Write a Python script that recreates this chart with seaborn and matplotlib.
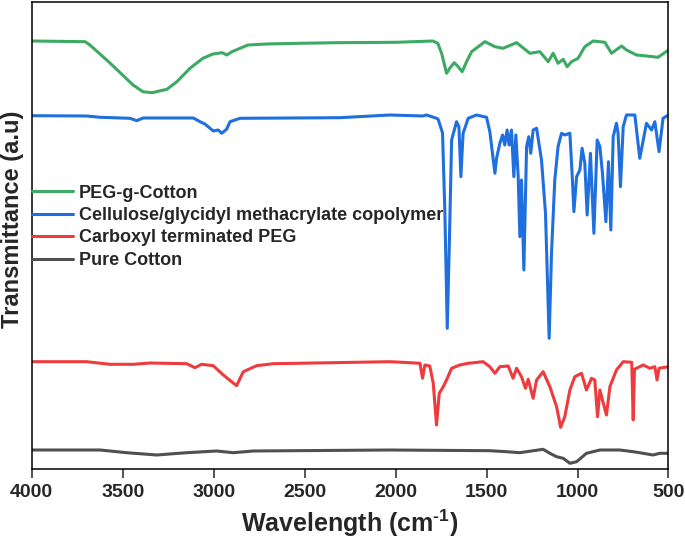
import matplotlib
matplotlib.use("Agg")
import matplotlib.pyplot as plt
import numpy as np
import pandas as pd
import seaborn as sns

# FTIR spectra (wavenumber in cm-1, transmittance in a.u., already offset)
peg_cotton_wn = [4000, 3707, 3680, 3570, 3443, 3389, 3339, 3257, 3202, 3130, 3059, 3004, 2954, 2927,
                 2899, 2855, 2811, 2707, 2526, 2322, 1994, 1795, 1768, 1747, 1720, 1702, 1678, 1656,
                 1634, 1610, 1582, 1509, 1454, 1409, 1335, 1262, 1207, 1161, 1134, 1107, 1079, 1057,
                 1033, 997, 960, 914, 850, 813, 758, 731, 676, 621, 557, 500]
peg_cotton_t = [428.3, 427.6, 424.3, 406.3, 384.3, 377.6, 376.6, 380, 387.6, 401, 411, 415.3, 416.6, 414.3,
                417.6, 421, 424.3, 425.3, 426, 426.6, 427, 428.3, 426, 416, 396, 401, 406.6, 402.6,
                397.6, 407.6, 417.6, 427.6, 422.6, 421, 426.6, 416, 417.6, 407.6, 416, 406, 410, 402.6,
                407.6, 411, 422.6, 428.3, 427, 416, 423.3, 419.3, 414.3, 413.3, 412, 419.3]

gma_wn = [4000, 3698, 3625, 3460, 3423, 3387, 3112, 3075, 3048, 3002, 2975, 2956, 2929, 2910, 2855,
          2306, 2031, 1850, 1830, 1775, 1766, 1742, 1729, 1716, 1705, 1692, 1665, 1652, 1641, 1629,
          1601, 1555, 1500, 1482, 1454, 1445, 1427, 1412, 1400, 1387, 1376, 1363, 1350, 1339, 1326,
          1317, 1308, 1295, 1280, 1268, 1257, 1244, 1225, 1198, 1176, 1156, 1143, 1125, 1107, 1088,
          1070, 1042, 1028, 1020, 1005, 987, 975, 960, 947, 929, 910, 892, 877, 863, 844, 830, 817,
          804, 786, 777, 764, 749, 731, 685, 658, 621, 593, 575, 552, 530, 500]
gma_t = [353.6, 353.3, 352, 351, 348.6, 351.3, 351.3, 347.6, 345.3, 338.3, 339.3, 336, 340, 347.6, 351,
         351.6, 354.3, 353.3, 354.3, 351, 350, 336.3, 256.3, 141, 222.6, 329.3, 347.6, 342.6, 292.6, 336,
         351, 354.3, 352, 337.6, 296, 311, 326, 334.3, 324.3, 339.3, 324.3, 339.3, 292.6, 334.3, 292.6,
         232.6, 289.3, 199.3, 322.6, 332.6, 316, 339.3, 341, 309.3, 256, 131, 216, 289.3, 322.6, 336,
         334.3, 336, 289.3, 257.6, 292.6, 299.3, 321, 306, 254.3, 316, 236, 329.3, 322.6, 296, 247.6, 307.6, 239.3,
         332.6, 346, 336, 282.6, 342.6, 354.3, 354.3, 311, 346, 339.3, 347.6, 317.6, 351, 354.3]

cpeg_wn = [4000, 3698, 3570, 3442, 3350, 3148, 3103, 3066, 3002, 2947, 2874, 2837, 2764, 2672, 2343,
           2031, 1921, 1866, 1852, 1839, 1812, 1793, 1775, 1760, 1738, 1720, 1692, 1647, 1601, 1519,
           1482, 1454, 1427, 1381, 1354, 1335, 1308, 1286, 1271, 1244, 1225, 1189, 1152, 1115, 1093,
           1070, 1042, 1015, 978, 951, 923, 905, 890, 877, 863, 841, 822, 786, 749, 702, 694, 687,
           676, 639, 602, 575, 563, 552, 500]
cpeg_t = [107.6, 107.6, 105, 105, 106.3, 105.6, 101.6, 105, 103.6, 94.3, 83.6, 97.6, 103.6, 105.6, 106.6,
          107.6, 106.6, 106, 91, 104.3, 103.3, 86, 44.3, 76, 82.6, 89.3, 101, 104.3, 106, 107.6,
          102.6, 96, 102.6, 103.3, 91, 101, 92.6, 81, 90, 71, 89.3, 97.6, 82.6, 62.6, 42,
          52.6, 79.3, 92.6, 96, 79.3, 91, 89.3, 52.6, 79.3, 69.3, 54.3, 82.6, 99.3, 107.6, 107, 49.3, 100,
          101, 104.3, 101, 102.6, 89.3, 101, 102.6]

cotton_wn = [4000, 3625, 3478, 3313, 3148, 2984, 2892, 2782, 2031, 1482, 1390, 1317, 1189, 1152, 1115,
             1079, 1042, 1005, 951, 877, 768, 694, 639, 585, 548, 500]
cotton_t = [19.3, 19.3, 16.6, 14.3, 16.6, 18.3, 16.6, 18.3, 19.3, 18.6, 17.6, 16.6, 20, 16, 12.6,
            11, 6, 7.6, 16, 19.3, 19.3, 17.6, 16, 14.3, 16, 16]

names = ["PEG-g-Cotton", "Cellulose/glycidyl methacrylate copolymer",
         "Carboxyl terminated PEG", "Pure Cotton"]
colors = ["#3DAA64", "#1F6FDF", "#EE3B3E", "#505050"]

df = pd.concat([
    pd.DataFrame({"wn": peg_cotton_wn, "t": peg_cotton_t, "sample": names[0]}),
    pd.DataFrame({"wn": gma_wn, "t": gma_t, "sample": names[1]}),
    pd.DataFrame({"wn": cpeg_wn, "t": cpeg_t, "sample": names[2]}),
    pd.DataFrame({"wn": cotton_wn, "t": cotton_t, "sample": names[3]}),
], ignore_index=True)

sns.set_style("ticks")
plt.rcParams["font.family"] = ["Liberation Sans", "DejaVu Sans"]
plt.rcParams["font.weight"] = "bold"
plt.rcParams["mathtext.fontset"] = "custom"
plt.rcParams["mathtext.rm"] = "Liberation Sans:bold"
plt.rcParams["mathtext.bf"] = "Liberation Sans:bold"
plt.rcParams["mathtext.default"] = "bf"

fig = plt.figure(figsize=(6.85, 5.38), dpi=100)
ax = fig.add_axes([0.0463, 0.1277, 0.9296, 0.8686])

sns.lineplot(data=df, x="wn", y="t", hue="sample", hue_order=names, palette=colors,
             sort=False, estimator=None, linewidth=2.2, ax=ax, legend=False)

ax.set_xlim(4000, 500)
ax.set_ylim(0, 467.3)
ax.set_xticks(np.arange(4000, 499, -500))
ax.set_yticks([])
ax.tick_params(axis="x", direction="out", length=6.5, width=1.1, labelsize=14, pad=4)
for s in ax.spines.values():
    s.set_visible(True)
    s.set_linewidth(1.1)
    s.set_color("black")

ax.set_xlabel(r"Wavelength (cm$^{\text{-1}}$)", fontsize=18, fontweight="bold", labelpad=5)
ax.set_ylabel("Transmittance (a.u)", fontsize=17, fontweight="bold")
ax.yaxis.set_label_coords(-0.012, 0.536)

handles = [plt.Line2D([], [], color=c, lw=2.2) for c in colors]
ax.legend(handles, names, loc="center left", bbox_to_anchor=(0, 0.519), frameon=False,
          fontsize=13, borderpad=0, borderaxespad=0, handlelength=2.3, handletextpad=0.3,
          labelspacing=0.3)

fig.savefig("out.png", dpi=100)
